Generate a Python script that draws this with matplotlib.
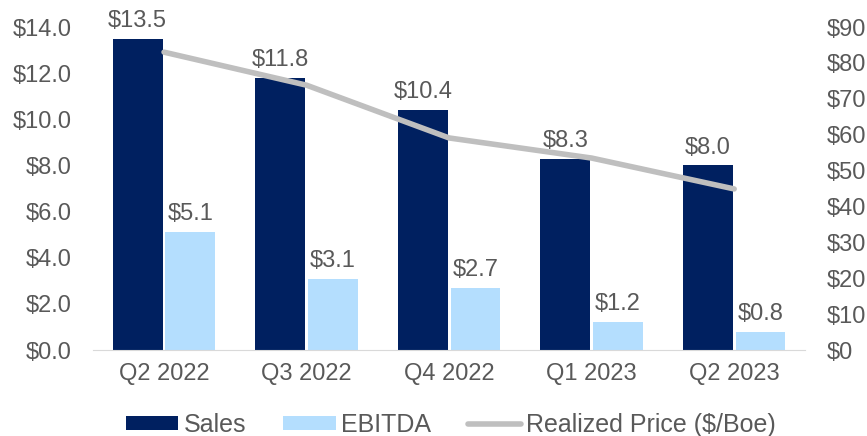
import matplotlib.pyplot as plt
import numpy as np

plt.rcParams['font.family'] = ['Liberation Sans', 'DejaVu Sans']

quarters = ["Q2 2022", "Q3 2022", "Q4 2022", "Q1 2023", "Q2 2023"]
sales = [13.5, 11.8, 10.4, 8.3, 8.0]
ebitda = [5.1, 3.1, 2.7, 1.2, 0.8]
realized_price = [83.0, 73.8, 59.1, 53.5, 44.9]

navy = '#002060'
light = '#B4DEFE'
grey_line = '#BFBFBF'
txt = '#595959'
fs = 17

fig = plt.figure(figsize=(8.67, 4.36), dpi=100)
ax = fig.add_axes([0.107, 0.197, 0.822, 0.741])
ax2 = ax.twinx()

x = np.arange(len(quarters))
w = 0.35
b1 = ax.bar(x - w / 2 - 0.01, sales, w, color=navy, label='Sales', zorder=2)
b2 = ax.bar(x + w / 2 + 0.01, ebitda, w, color=light, label='EBITDA', zorder=2)

for bars, vals in ((b1, sales), (b2, ebitda)):
    for rect, v in zip(bars, vals):
        ax.annotate(f"${v:.1f}", (rect.get_x() + rect.get_width() / 2, v),
                    xytext=(0, 5), textcoords='offset points',
                    ha='center', va='bottom', fontsize=fs, color=txt)

ln, = ax2.plot(x, realized_price, color=grey_line, lw=4, solid_capstyle='round',
               label='Realized Price ($/Boe)')

ax.set_xlim(-0.5, len(quarters) - 0.5)
ax.set_ylim(0, 14)
ax.set_yticks(np.arange(0, 14.1, 2))
ax.set_yticklabels([f"${v:.1f}" for v in np.arange(0, 14.1, 2)])
ax2.set_ylim(0, 90)
ax2.set_yticks(np.arange(0, 91, 10))
ax2.set_yticklabels([f"${v}" for v in range(0, 91, 10)])
ax.set_xticks(x)
ax.set_xticklabels(quarters)

for a in (ax, ax2):
    for s in ['top', 'left', 'right', 'bottom']:
        a.spines[s].set_visible(False)
    a.tick_params(length=0, labelsize=fs, labelcolor=txt)
ax.spines['bottom'].set_visible(True)
ax.spines['bottom'].set_color('#D9D9D9')
ax.tick_params(axis='x', pad=9)
ax.tick_params(axis='y', pad=15)
ax2.tick_params(axis='y', pad=15)

leg = fig.legend([b1, b2, ln], ['Sales', 'EBITDA', 'Realized Price ($/Boe)'],
                 loc='center', bbox_to_anchor=(0.52, 0.025), ncol=3, frameon=False,
                 fontsize=18, handlelength=2.1, handleheight=0.5, handletextpad=0.2,
                 columnspacing=1.5, borderpad=0)
for t in leg.get_texts():
    t.set_color(txt)

fig.savefig('out.png', dpi=100)
